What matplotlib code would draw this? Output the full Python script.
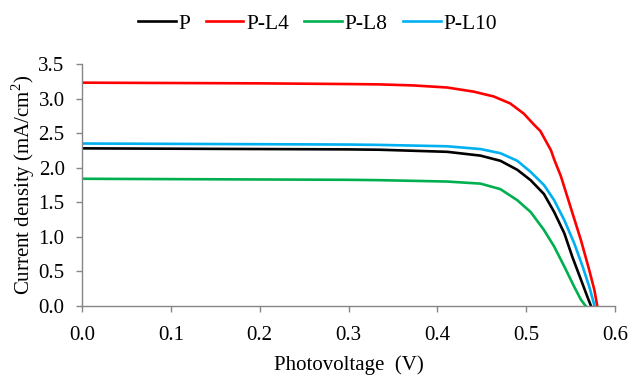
import matplotlib
matplotlib.use("Agg")
import matplotlib.pyplot as plt
from matplotlib.ticker import FormatStrFormatter

# Data
v_P = [0.0, 0.1, 0.2, 0.3, 0.335, 0.411, 0.4485, 0.471, 0.490, 0.505, 0.520, 0.5315, 0.543, 0.552, 0.5617, 0.569, 0.573]
j_P = [2.28, 2.275, 2.27, 2.265, 2.26, 2.23, 2.175, 2.10, 1.97, 1.82, 1.62, 1.36, 1.05, 0.71, 0.38, 0.13, 0.0]

v_L4 = [0.0, 0.1, 0.2, 0.3, 0.335, 0.373, 0.411, 0.441, 0.4635, 0.482, 0.4975, 0.509, 0.516, 0.528, 0.5315, 0.539, 0.550, 0.5617, 0.571, 0.5768, 0.5800]
j_L4 = [3.23, 3.225, 3.22, 3.21, 3.205, 3.19, 3.16, 3.10, 3.03, 2.93, 2.78, 2.62, 2.53, 2.25, 2.12, 1.88, 1.43, 0.95, 0.52, 0.23, 0.0]

v_L8 = [0.0, 0.1, 0.2, 0.3, 0.335, 0.411, 0.4485, 0.471, 0.490, 0.505, 0.520, 0.5315, 0.543, 0.554, 0.5617, 0.567]
j_L8 = [1.84, 1.835, 1.83, 1.825, 1.82, 1.80, 1.77, 1.69, 1.53, 1.36, 1.10, 0.86, 0.57, 0.28, 0.09, 0.0]

v_L10 = [0.0, 0.1, 0.2, 0.3, 0.335, 0.411, 0.4485, 0.471, 0.490, 0.505, 0.520, 0.5315, 0.543, 0.554, 0.5636, 0.571, 0.577]
j_L10 = [2.35, 2.345, 2.34, 2.335, 2.33, 2.31, 2.27, 2.21, 2.10, 1.94, 1.75, 1.53, 1.24, 0.91, 0.57, 0.28, 0.0]

labels = ["P", "P-L4", "P-L8", "P-L10"]
colors = ["#000000", "#FF0000", "#00B050", "#00B0F0"]

plt.rcParams['font.family'] = ['Liberation Serif', 'DejaVu Serif']
plt.rcParams['mathtext.fontset'] = 'custom'
plt.rcParams['mathtext.rm'] = 'Liberation Serif'

fig = plt.figure(figsize=(6.33, 3.78), dpi=100)
ax = fig.add_axes([82 / 633, 1 - 306 / 378, 533 / 633, 242 / 378])

series = [(v_P, j_P), (v_L4, j_L4), (v_L8, j_L8), (v_L10, j_L10)]
for (v, j), lab, c in zip(series, labels, colors):
    ax.plot(v, j, color=c, lw=1.9, label=lab, solid_joinstyle='round')

ax.set_xlim(0, 0.6)
ax.set_ylim(0, 3.5)
ax.set_xticks([0.0, 0.1, 0.2, 0.3, 0.4, 0.5, 0.6])
ax.set_yticks([0.0, 0.5, 1.0, 1.5, 2.0, 2.5, 3.0, 3.5])
ax.xaxis.set_major_formatter(FormatStrFormatter('%.1f'))
ax.yaxis.set_major_formatter(FormatStrFormatter('%.1f'))
for s in ['top', 'right']:
    ax.spines[s].set_visible(False)
for s in ['left', 'bottom']:
    ax.spines[s].set_color('#868686')
    ax.spines[s].set_linewidth(1.0)
ax.tick_params(axis='both', direction='out', length=4.5, width=1.0, color='#868686',
               labelsize=15, labelcolor='black')
ax.tick_params(axis='x', pad=10)
ax.tick_params(axis='y', pad=8)
ax.set_xlabel("Photovoltage  (V)", fontsize=15, labelpad=7)
ax.set_ylabel("Current density (mA/cm$^2$)", fontsize=15, labelpad=1)

fig.legend(loc='center', bbox_to_anchor=(0.5016, 0.937), ncol=4, frameon=False,
           fontsize=15.5, handlelength=1.75, handletextpad=0.12, columnspacing=0.72)

fig.savefig("out.png", dpi=100)
